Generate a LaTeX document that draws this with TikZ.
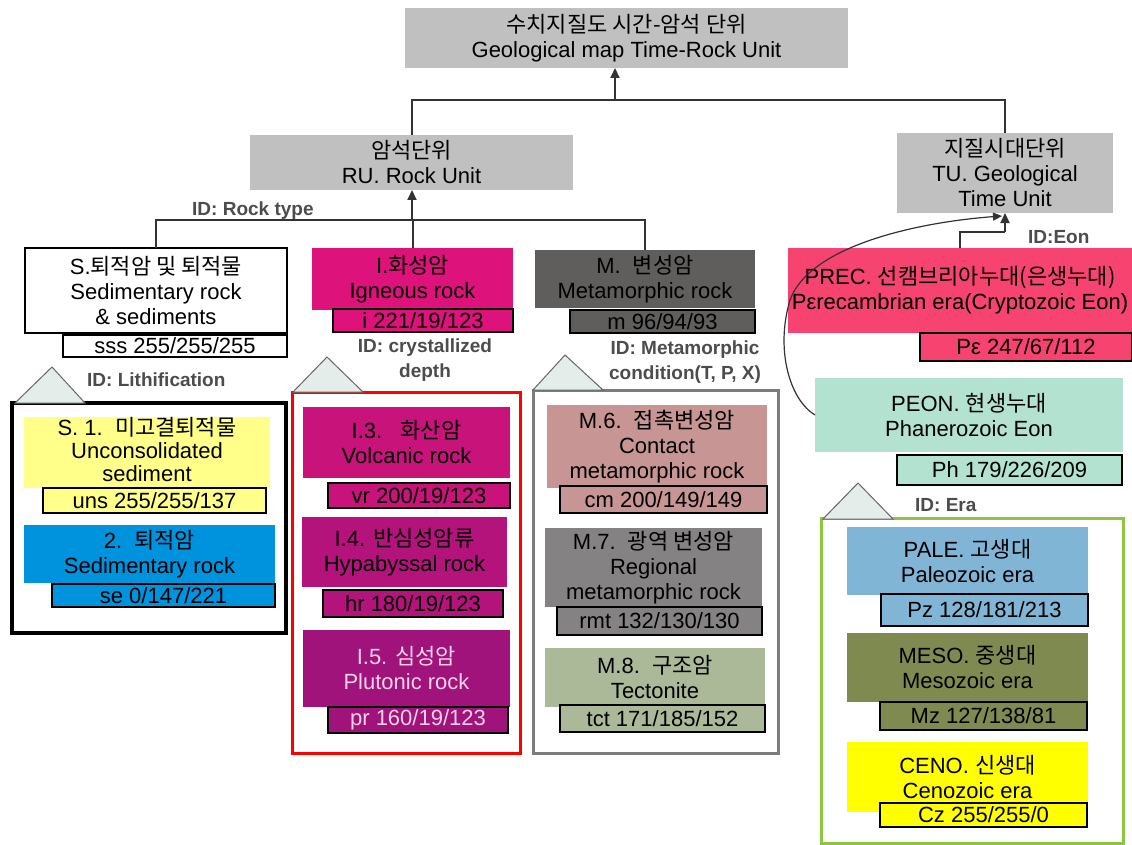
\documentclass[tikz,border=0pt]{standalone}
\usepackage{fontspec}
\setmainfont{Liberation Sans}
\newfontfamily\kr{Noto Sans CJK KR}
\usetikzlibrary{arrows.meta}
\definecolor{gbox}{RGB}{192,192,192}
\definecolor{cuns}{RGB}{255,255,137}
\definecolor{cse}{RGB}{0,147,221}
\definecolor{cI}{RGB}{221,19,123}
\definecolor{cvr}{RGB}{200,19,123}
\definecolor{chr}{RGB}{180,19,123}
\definecolor{cpr}{RGB}{160,19,123}
\definecolor{cM}{RGB}{96,94,93}
\definecolor{ccm}{RGB}{200,149,149}
\definecolor{crmt}{RGB}{132,130,130}
\definecolor{ctct}{RGB}{171,185,152}
\definecolor{cPe}{RGB}{247,67,112}
\definecolor{cPh}{RGB}{179,226,209}
\definecolor{cPz}{RGB}{128,181,213}
\definecolor{cMz}{RGB}{127,138,81}
\definecolor{cCz}{RGB}{255,255,0}
\definecolor{tri}{RGB}{228,237,233}
\definecolor{frgreen}{RGB}{140,198,63}
\definecolor{frgray}{RGB}{125,125,125}
\definecolor{lightpink}{RGB}{245,210,230}
\newcommand\fs{\fontsize{22}{25}\selectfont}
\newcommand\idf{\fontsize{19}{25}\selectfont\bfseries}
\tikzset{
  unit/.style={rectangle, inner sep=0pt, outer sep=0pt, align=center, font=\fs, text=black},
  code/.style={rectangle, draw=black, line width=1.5pt, inner sep=0pt, outer sep=0pt, align=center, font=\fs, text=black},
  idlab/.style={inner sep=0pt, align=center, font=\idf, text=black!70},
  frame/.style={line width=3pt},
  tribox/.style={draw=black!60, fill=tri, line width=1pt},
  link/.style={draw=black!80, line width=2pt},
  arr/.style={link, -{Triangle[length=10pt,width=9pt]}},
}
\begin{document}
\begin{tikzpicture}[x=1pt,y=-1pt]
\useasboundingbox (0,0) rectangle (1132,845);
\fill[white] (0,0) rectangle (1132,845);

% containers and triangles
\draw[frame, line width=4pt, black] (12,403) rectangle (286,633);
\draw[frame, red] (292,392) rectangle (520,753);
\draw[frame, frgray] (533,390) rectangle (778,753);
\draw[frame, frgreen] (821,518) rectangle (1123,843);
\draw[tribox] (15,403) -- (52,367) -- (85,403) -- cycle;
\draw[tribox] (293,392) -- (327,357) -- (363,392) -- cycle;
\draw[tribox] (533,390) -- (565,355) -- (603,390) -- cycle;
\draw[tribox] (823,519) -- (858,483) -- (893,519) -- cycle;

% top level
\node[unit, fill=gbox, minimum width=443pt, minimum height=60pt] (top) at (626.5,38) {{\kr 수치지질도 시간-암석 단위}\\Geological map Time-Rock Unit};
\node[unit, fill=gbox, minimum width=323pt, minimum height=55pt] (RU) at (411.5,162.5) {{\kr 암석단위}\\RU. Rock Unit};
\node[unit, fill=gbox, minimum width=216pt, minimum height=80pt] (TU) at (1005,173) {{\kr 지질시대단위}\\TU. Geological\\Time Unit};

% sedimentary
\node[unit, fill=white, draw=black, line width=1.5pt, minimum width=262pt, minimum height=85pt] (S) at (156,290.5) {S.{\kr 퇴적암 및 퇴적물}\\Sedimentary rock\\\& sediments};
\node[code, fill=white, minimum width=224pt, minimum height=22pt] (sss) at (175,346) {sss 255/255/255};
\node[idlab, anchor=west] (idS) at (87,380) {ID: Lithification};
\node[unit, fill=cuns, minimum width=246pt, minimum height=71pt] (S1) at (147,452.5) {};
\node[unit, font=\fontsize{22}{23}\selectfont] (S1t) at (147,450) {S. 1.\ \ {\kr 미고결퇴적물}\\Unconsolidated\\sediment};
\node[code, fill=cuns, minimum width=223pt, minimum height=25pt] (uns) at (154.5,500.5) {uns 255/255/137};
\node[unit, fill=cse, minimum width=251pt, minimum height=58pt] (S2) at (149.5,554) {2.\ \ {\kr 퇴적암}\\Sedimentary rock};
\node[code, fill=cse, minimum width=223pt, minimum height=23pt] (se) at (163.5,595.5) {se 0/147/221};

% igneous
\node[unit, fill=cI, minimum width=201pt, minimum height=62pt] (I) at (412.5,279) {I.{\kr 화성암}\\Igneous rock};
\node[code, fill=cI, minimum width=180pt, minimum height=23pt] (icode) at (423,320.5) {i 221/19/123};
\node[idlab] (idI) at (425,360.5) {ID: crystallized\\depth};
\node[unit, fill=cvr, minimum width=207pt, minimum height=71pt] (I3) at (406.5,442.5) {I.3.\ \ \ {\kr 화산암}\\Volcanic rock};
\node[code, fill=cvr, minimum width=182pt, minimum height=25pt] (vr) at (419,495.5) {vr 200/19/123};
\node[unit, fill=chr, minimum width=205pt, minimum height=70pt] (I4) at (404.5,552) {I.4. {\kr 반심성암류}\\Hypabyssal rock};
\node[code, fill=chr, minimum width=180pt, minimum height=27pt] (hr) at (413,603.5) {hr 180/19/123};
\node[unit, fill=cpr, text=lightpink, minimum width=207pt, minimum height=77pt] (I5) at (406.5,668.5) {I.5. {\kr 심성암}\\Plutonic rock};
\node[code, fill=cpr, text=lightpink, minimum width=180pt, minimum height=26pt] (pr) at (418,720) {pr 160/19/123};

% metamorphic
\node[unit, fill=cM, minimum width=220pt, minimum height=58pt] (M) at (645,279) {M.\ \ {\kr 변성암}\\Metamorphic rock};
\node[code, fill=cM, minimum width=185pt, minimum height=23pt] (mcode) at (662.5,321.5) {m 96/94/93};
\node[idlab] (idM) at (685,362) {ID: Metamorphic\\condition(T, P, X)};
\node[unit, fill=ccm, minimum width=220pt, minimum height=83pt] (M6) at (657,446.5) {M.6.\ \ {\kr 접촉변성암}\\Contact\\metamorphic rock};
\node[code, fill=ccm, minimum width=207pt, minimum height=27pt] (cm) at (663.5,499.5) {cm 200/149/149};
\node[unit, fill=crmt, minimum width=217pt, minimum height=79pt] (M7) at (653.5,567.5) {M.7.\ \ {\kr 광역 변성암}\\Regional\\metamorphic rock};
\node[code, fill=crmt, minimum width=205pt, minimum height=28pt] (rmt) at (659.5,621) {rmt 132/130/130};
\node[unit, fill=ctct, minimum width=220pt, minimum height=59pt] (M8) at (655,677.5) {M.8.\ \ {\kr 구조암}\\Tectonite};
\node[code, fill=ctct, minimum width=205pt, minimum height=27pt] (tct) at (662.5,718.5) {tct 171/185/152};

% time units
\node[unit, fill=cPe, minimum width=344pt, minimum height=85pt] (PREC) at (960,290.5) {PREC. {\kr 선캠브리아누대(은생누대)}\\Pεrecambrian era(Cryptozoic Eon)};
\node[code, fill=cPe, minimum width=212pt, minimum height=28pt] (Pe) at (1026,347) {Pε 247/67/112};
\node[idlab, anchor=west] (idEon) at (1028,237) {ID:Eon};
\node[unit, fill=cPh, minimum width=308pt, minimum height=74pt] (PEON) at (969,415) {PEON. {\kr 현생누대}\\Phanerozoic Eon};
\node[code, fill=cPh, minimum width=225pt, minimum height=30pt] (Ph) at (1009.5,470) {Ph 179/226/209};
\node[idlab, anchor=west] (idEra) at (915,505) {ID: Era};
\node[unit, fill=cPz, minimum width=241pt, minimum height=68pt] (PALE) at (967.5,561) {PALE. {\kr 고생대}\\Paleozoic era};
\node[code, fill=cPz, minimum width=207pt, minimum height=32pt] (Pz) at (984.5,610) {Pz 128/181/213};
\node[unit, fill=cMz, minimum width=241pt, minimum height=69pt] (MESO) at (967.5,667.5) {MESO. {\kr 중생대}\\Mesozoic era};
\node[code, fill=cMz, minimum width=207pt, minimum height=28pt] (Mz) at (983.5,716) {Mz 127/138/81};
\node[unit, fill=cCz, minimum width=241pt, minimum height=70pt] (CENO) at (967.5,777) {CENO. {\kr 신생대}\\Cenozoic era};
\node[code, fill=cCz, minimum width=207pt, minimum height=24pt] (Cz) at (983.5,815) {Cz 255/255/0};

% connectors
\coordinate (j1) at (615,100);
\coordinate (j2) at (412,220);
\coordinate (j3) at (1005,232);
\draw[link] (RU.north) |- (j1) -| (TU.north);
\draw[arr] (j1) -- (j1 |- top.south);
\draw[link] (S.north) |- (j2) -| (M.north);
\draw[link] (I.north) -- (I.north |- j2);
\draw[arr] (j2) -- (j2 |- RU.south);
\node[idlab, anchor=west] (idRock) at (192,211) {ID: Rock type};
\draw[link] (PREC.north) |- (j3);
\draw[arr] (j3) -- (TU.south);
\draw[draw=black!80, line width=1.2pt, -{Triangle[length=9pt,width=8pt]}] (PEON.west) .. controls (790,400) and (775,350) .. (790,300) .. controls (810,245) and (920,222) .. ([xshift=-3pt,yshift=-3pt]TU.south);
\end{tikzpicture}
\end{document}
